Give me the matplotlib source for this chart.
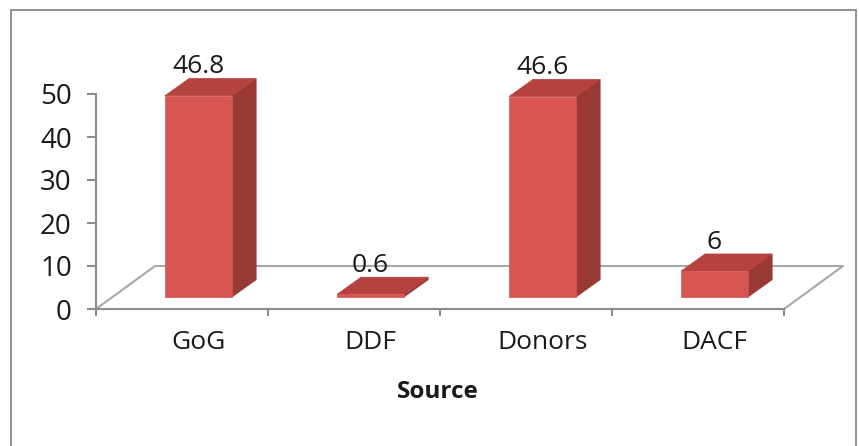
import matplotlib
matplotlib.use('Agg')
import numpy as np
import matplotlib.pyplot as plt
from matplotlib.patches import Polygon, Rectangle

####################################################################################

categories = ['GoG', 'DDF', 'Donors', 'DACF']
values = [46.8, 0.6, 46.6, 6]
value_labels = ['46.8', '0.6', '46.6', '6']
y_ticks = [0, 10, 20, 30, 40, 50]

FIG_W, FIG_H = 859, 446
DPI = 100

FRONT_RGB = '#D75551'
TOP_RGB = '#B5423F'
SIDE_RGB = '#983936'
FLOOR_RGB = '#A8A8A8'
AXIS_RGB = '#8C8C8C'
FRAME_RGB = '#7F7F7F'
TEXT_RGB = '#1A1A1A'

# pseudo 3d geometry (data units)
FLOOR_DX, FLOOR_DY = 0.343, 10.0
BAR_POS = 0.28               # bar front as fraction of floor depth
BAR_W = 0.39
BAR_DX, BAR_DY = 0.14, 4.0

plt.rcParams['font.family'] = ['Open Sans', 'DejaVu Sans']

####################################################################################

fig = plt.figure(figsize=(FIG_W / DPI, FIG_H / DPI), dpi=DPI, facecolor='white')
fig.patches.append(Rectangle((11 / FIG_W, -0.1), (856 - 11) / FIG_W, 1.1 - 10 / FIG_H,
                             transform=fig.transFigure, fill=False,
                             edgecolor=FRAME_RGB, linewidth=1.2))

# axes: left edge at px 96, floor front edge at px 309, 43 px per 10 units
ax = fig.add_axes([96 / FIG_W, (FIG_H - 309) / FIG_H, (850 - 96) / FIG_W, (309 - 10) / FIG_H])
ax.set_xlim(-0.5, (850 - 182) / 172)
ax.set_ylim(0, (309 - 10) / 4.3)
ax.patch.set_alpha(0)

for side in ['top', 'right']:
    ax.spines[side].set_visible(False)
for side in ['left', 'bottom']:
    ax.spines[side].set_color(AXIS_RGB)
    ax.spines[side].set_linewidth(1.5)
n = len(categories)
ax.spines['left'].set_bounds(0, 50)
ax.spines['bottom'].set_bounds(-0.5, n - 0.5)

ax.set_yticks(y_ticks)
ax.set_yticklabels([str(t) for t in y_ticks], fontsize=20, color=TEXT_RGB)
ax.set_xticks(np.arange(n + 1) - 0.5)
ax.set_xticklabels([])
ax.set_xticks(np.arange(n) + BAR_POS * FLOOR_DX, minor=True)
ax.set_xticklabels(categories, minor=True, fontsize=19, color=TEXT_RGB)
ax.tick_params(axis='y', length=6.5, width=1.5, color=AXIS_RGB, pad=11)
ax.tick_params(axis='x', which='major', length=5, width=1.5, color=AXIS_RGB)
ax.tick_params(axis='x', which='minor', length=0, pad=15)
ax.set_xlabel('Source', fontsize=17.5, fontweight='bold', color=TEXT_RGB)
ax.xaxis.set_label_coords(1.49, -0.238, transform=ax.get_xaxis_transform())

# floor
x0, x1 = -0.5, n - 0.5
ax.plot([x0, x0 + FLOOR_DX, x1 + FLOOR_DX, x1], [0, FLOOR_DY, FLOOR_DY, 0],
        color=FLOOR_RGB, linewidth=1.5, clip_on=False, zorder=1)

# bars
for i, v in enumerate(values):
    cx = i + BAR_POS * FLOOR_DX
    y0 = BAR_POS * FLOOR_DY
    l, r, t = cx - BAR_W / 2, cx + BAR_W / 2, y0 + v
    front = Polygon([(l, y0), (r, y0), (r, t), (l, t)], closed=True)
    top = Polygon([(l, t), (r, t), (r + BAR_DX, t + BAR_DY), (l + BAR_DX, t + BAR_DY)], closed=True)
    side = Polygon([(r, y0), (r + BAR_DX, y0 + BAR_DY), (r + BAR_DX, t + BAR_DY), (r, t)], closed=True)
    for poly, col in [(side, SIDE_RGB), (top, TOP_RGB), (front, FRONT_RGB)]:
        poly.set_facecolor(col)
        poly.set_edgecolor(col)
        poly.set_linewidth(0.5)
        poly.set_clip_on(False)
        poly.set_zorder(3)
        ax.add_patch(poly)
    ax.text(cx, t + BAR_DY - 0.2, value_labels[i], ha='center', va='bottom',
            fontsize=19, color=TEXT_RGB, zorder=4)

fig.savefig('out.png', dpi=DPI, facecolor='white')
